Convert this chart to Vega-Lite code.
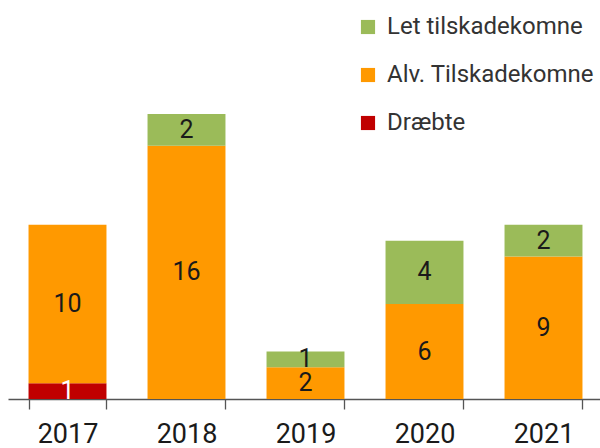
{
  "$schema": "https://vega.github.io/schema/vega-lite/v6.json",
  "width": 595,
  "height": 399,
  "autosize": "none",
  "padding": {"left": 8, "top": 0, "right": 0, "bottom": 49},
  "background": "white",
  "config": {"view": {"stroke": null}, "font": "Roboto"},
  "data": {"values": [
    {"year": "2017", "cat": "Dræbte", "order": 1, "value": 1},
    {"year": "2017", "cat": "Alv. Tilskadekomne", "order": 2, "value": 10},
    {"year": "2018", "cat": "Alv. Tilskadekomne", "order": 2, "value": 16},
    {"year": "2018", "cat": "Let tilskadekomne", "order": 3, "value": 2},
    {"year": "2019", "cat": "Alv. Tilskadekomne", "order": 2, "value": 2},
    {"year": "2019", "cat": "Let tilskadekomne", "order": 3, "value": 1},
    {"year": "2020", "cat": "Alv. Tilskadekomne", "order": 2, "value": 6},
    {"year": "2020", "cat": "Let tilskadekomne", "order": 3, "value": 4},
    {"year": "2021", "cat": "Alv. Tilskadekomne", "order": 2, "value": 9},
    {"year": "2021", "cat": "Let tilskadekomne", "order": 3, "value": 2}
  ]},
  "transform": [
    {"stack": "value", "groupby": ["year"], "sort": [{"field": "order", "order": "ascending"}], "as": ["v0", "v1"]},
    {"calculate": "(datum.v0 + datum.v1) / 2", "as": "mid"}
  ],
  "encoding": {
    "x": {
      "field": "year", "type": "nominal", "title": null,
      "scale": {"paddingInner": 0.345, "paddingOuter": 0.1725},
      "axis": {
        "labelAngle": 0, "labelFontSize": 27, "labelColor": "#1a1a1a", "labelPadding": 12,
        "tickSize": 10, "tickColor": "#555555", "domainColor": "#555555", "tickWidth": 1.3, "domainWidth": 1.3,
        "tickBand": "extent", "grid": false
      }
    }
  },
  "layer": [
    {
      "mark": {"type": "bar"},
      "encoding": {
        "y": {"field": "v0", "type": "quantitative", "scale": {"domain": [0, 25.2], "nice": false}, "axis": null},
        "y2": {"field": "v1"},
        "color": {
          "field": "cat", "type": "nominal",
          "scale": {"domain": ["Let tilskadekomne", "Alv. Tilskadekomne", "Dræbte"], "range": ["#9BBB59", "#FF9900", "#C00000"]},
          "legend": {
            "title": null, "orient": "none", "legendX": 348, "legendY": 15,
            "symbolType": "square", "symbolSize": 200, "symbolStrokeWidth": 0, "labelLimit": 400,
            "labelFontSize": 24, "labelColor": "#333333", "labelOffset": 7, "rowPadding": 24, "padding": 0
          }
        }
      }
    },
    {
      "mark": {"type": "text", "fontSize": 25, "baseline": "middle", "align": "center"},
      "encoding": {
        "y": {"field": "mid", "type": "quantitative"},
        "text": {"field": "value", "type": "quantitative"},
        "color": {"condition": {"test": "datum.cat === 'Dræbte'", "value": "white"}, "value": "#1a1a1a"}
      }
    }
  ]
}
